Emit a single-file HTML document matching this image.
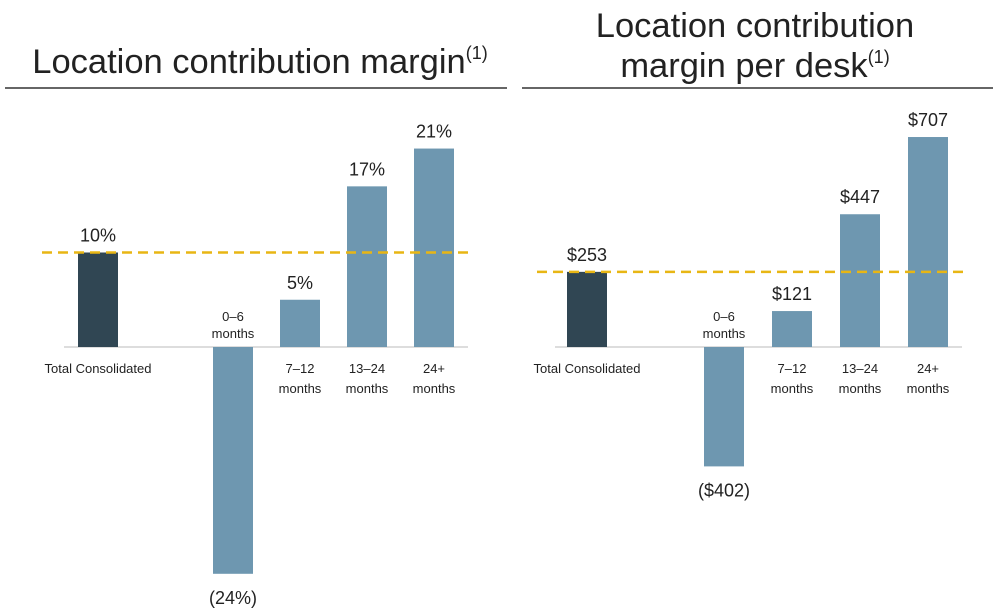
<!DOCTYPE html>
<html><head><meta charset="utf-8"><style>
body{margin:0;background:#fff;width:1000px;height:611px;overflow:hidden;font-family:"Liberation Sans",sans-serif}
svg text{font-family:"Liberation Sans",sans-serif}
</style></head><body>
<svg id="c" width="1000" height="611">
<text x="260" y="73" text-anchor="middle" font-size="34.5" fill="#222">Location contribution margin<tspan font-size="18" dy="-14">(1)</tspan></text>
<line x1="5" y1="88" x2="507" y2="88" stroke="#333" stroke-width="1.5"/>
<text x="755" y="37" text-anchor="middle" font-size="34.5" fill="#222">Location contribution</text>
<text x="755" y="77" text-anchor="middle" font-size="34.5" fill="#222">margin per desk<tspan font-size="18" dy="-14">(1)</tspan></text>
<line x1="522" y1="88" x2="993" y2="88" stroke="#333" stroke-width="1.5"/>
</svg>
<script>
const categories=[["Total Consolidated"],["0–6","months"],["7–12","months"],["13–24","months"],["24+","months"]];
const leftValues=[10,-24,5,17,21];
const leftLabels=["10%","(24%)","5%","17%","21%"];
const rightValues=[253,-402,121,447,707];
const rightLabels=["$253","($402)","$121","$447","$707"];
const svg=document.getElementById('c');const NS='http://www.w3.org/2000/svg';
function mk(t,a,txt){const e=document.createElementNS(NS,t);for(const k in a)e.setAttribute(k,a[k]);if(txt!==undefined)e.textContent=txt;svg.appendChild(e);return e;}
function draw(side,values,labels,xs,scale,axisX1,axisX2,dashX1,dashX2){
  const base=347;const y=v=>base-v*scale;
  const ax=mk('line',{x1:axisX1,y1:base,x2:axisX2,y2:base,stroke:'#ddd','stroke-width':2});
  
  
  values.forEach((v,i)=>{
    const top=Math.min(y(v),base),h=Math.abs(y(v)-base);
    const r=mk('rect',{x:xs[i],y:top,width:40,height:h,fill:i==0?'#304653':'#6e97b0'});
    
    
    const cx=xs[i]+20;
    const ly=v>=0?y(v)-11:y(v)+30;
    const t=mk('text',{x:cx,y:ly,'text-anchor':'middle','font-size':18,fill:'#222'},labels[i]);
    
    
    const cat=categories[i];
    cat.forEach((line,j)=>{
      let tx=cx,ty;
      if(i==0){ty=373;}
      else if(v<0){ty=base-26+j*17;}
      else{ty=373+j*20;}
      const c=mk('text',{x:tx,y:ty,'text-anchor':'middle','font-size':13,fill:'#222'},line);
      
      
    });
  });
  const d=mk('line',{x1:dashX1,y1:y(values[0]),x2:dashX2,y2:y(values[0]),stroke:'#e8b614','stroke-width':2.5,'stroke-dasharray':'10 6'});
  
  
}
draw('left',leftValues,leftLabels,[78,213,280,347,414],9.45,64,468,42,472);
draw('right',rightValues,rightLabels,[567,704,772,840,908],0.297,555,962,537,967);
</script>
</body></html>
